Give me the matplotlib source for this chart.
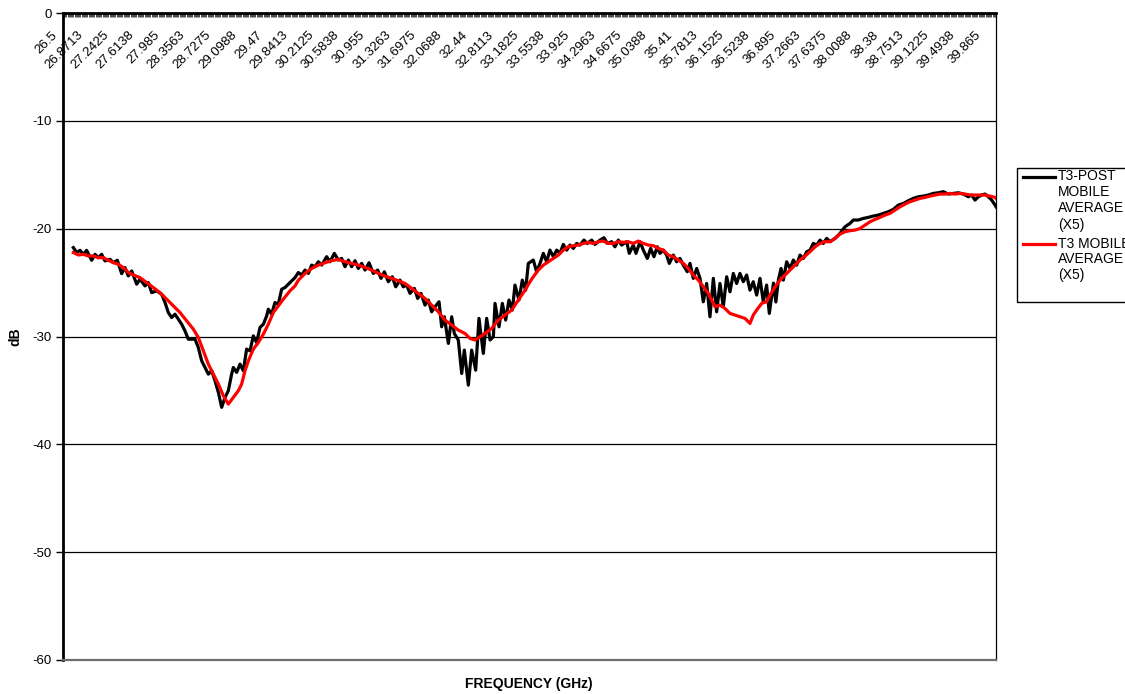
import matplotlib
matplotlib.use("Agg")
import matplotlib.pyplot as plt
from matplotlib.patches import Rectangle
from matplotlib.lines import Line2D
import matplotlib.transforms as mtransforms

plt.rcParams['font.family'] = ['Liberation Sans', 'DejaVu Sans']
plt.rcParams['axes.unicode_minus'] = False

# ---------------- data ----------------
f_start, f_stop, n_points = 26.5, 40.0, 801

x_tick_labels = ["26.5", "26.8713", "27.2425", "27.6138", "27.985", "28.3563", "28.7275",
                 "29.0988", "29.47", "29.8413", "30.2125", "30.5838", "30.955", "31.3263",
                 "31.6975", "32.0688", "32.44", "32.8113", "33.1825", "33.5538", "33.925",
                 "34.2963", "34.6675", "35.0388", "35.41", "35.7813", "36.1525", "36.5238",
                 "36.895", "37.2663", "37.6375", "38.0088", "38.38", "38.7513", "39.1225",
                 "39.4938", "39.865"]
y_ticks = [0, -10, -20, -30, -40, -50, -60]

series_post_label = "T3-POST\nMOBILE\nAVERAGE\n(X5)"
series_t3_label = "T3 MOBILE\nAVERAGE\n(X5)"

post_freq = [26.650, 26.698, 26.746, 26.794, 26.842, 26.915, 26.963, 27.011, 27.059, 27.108,
             27.180, 27.228, 27.286, 27.349, 27.397, 27.445, 27.494, 27.566, 27.614, 27.687,
             27.735, 27.783, 27.855, 27.928, 27.976, 28.024, 28.072, 28.121, 28.169, 28.217,
             28.265, 28.313, 28.362, 28.410, 28.458, 28.506, 28.555, 28.603, 28.651, 28.699,
             28.748, 28.796, 28.844, 28.892, 28.940, 28.965, 29.013, 29.061, 29.109, 29.157,
             29.206, 29.254, 29.302, 29.350, 29.399, 29.447, 29.471, 29.519, 29.567, 29.615,
             29.664, 29.712, 29.760, 29.808, 29.857, 29.905,
             29.953, 30.002, 30.050, 30.098, 30.146, 30.195, 30.243, 30.315, 30.363, 30.426,
             30.484, 30.532, 30.580, 30.629, 30.677, 30.725, 30.773, 30.822, 30.870, 30.928,
             30.990, 31.053, 31.101, 31.150, 31.207, 31.265, 31.314, 31.376, 31.424, 31.473,
             31.521, 31.584, 31.632, 31.680, 31.738, 31.786, 31.834, 31.883, 31.941, 31.979,
             32.018, 32.076, 32.124, 32.162, 32.220, 32.269, 32.307, 32.365, 32.413, 32.471,
             32.519, 32.582, 32.630, 32.679, 32.727, 32.751, 32.809, 32.857, 32.905, 32.953,
             33.002, 33.040, 33.098, 33.146, 33.194, 33.233,
             33.305, 33.353, 33.402, 33.450, 33.498, 33.546, 33.595, 33.643, 33.691, 33.739,
             33.788, 33.836, 33.884, 33.932, 33.980, 34.038, 34.087, 34.149, 34.197, 34.270,
             34.328, 34.376, 34.439, 34.487, 34.535, 34.583, 34.656, 34.694, 34.752, 34.791,
             34.849, 34.897, 34.955, 35.003, 35.051, 35.099, 35.138, 35.186, 35.234, 35.273,
             35.331, 35.379, 35.427, 35.476, 35.533, 35.572, 35.620, 35.669, 35.717, 35.765,
             35.813, 35.861, 35.910, 35.958, 36.006, 36.054, 36.103, 36.151, 36.199, 36.247,
             36.295, 36.344, 36.392, 36.440, 36.488, 36.537, 36.585, 36.633, 36.681, 36.720,
             36.780, 36.815,
             36.851, 36.890, 36.923, 36.971, 37.020, 37.068, 37.116, 37.164, 37.213, 37.261,
             37.309, 37.357, 37.406, 37.454, 37.502, 37.550, 37.598, 37.671, 37.743, 37.816,
             37.888, 37.936, 38.008, 38.081, 38.153, 38.225, 38.298, 38.370, 38.443, 38.515,
             38.587, 38.660, 38.732, 38.804, 38.877, 38.949, 39.021, 39.094, 39.166, 39.238,
             39.311, 39.383, 39.455, 39.528, 39.600, 39.648, 39.696, 39.745, 39.793, 39.841,
             39.889, 39.938, 39.986, 40.000]
post_db = [-21.76, -22.22, -22.01, -22.38, -22.01, -22.93, -22.38, -22.69, -22.38, -22.99,
           -22.84, -23.15, -22.93, -24.17, -23.61, -24.38, -23.92, -25.15, -24.69, -25.31,
           -25.00, -25.93, -25.77, -26.08, -26.85, -27.78, -28.24, -27.93, -28.40, -28.86,
           -29.48, -30.25, -30.25, -30.25, -31.02, -32.25, -32.87, -33.49, -33.18, -34.10,
           -35.19, -36.57, -35.65, -35.03, -33.49, -32.87, -33.33, -32.56, -33.18, -31.17,
           -31.33, -29.94, -30.56, -29.17, -28.86, -28.09, -27.47, -27.93, -26.85, -27.01,
           -25.62, -25.46, -25.15, -24.85, -24.54, -24.07,
           -24.30, -23.84, -24.15, -23.38, -23.53, -23.07, -23.38, -22.60, -23.07, -22.29,
           -22.91, -22.76, -23.53, -22.91, -23.53, -22.97, -23.69, -23.22, -23.84, -23.16,
           -24.15, -23.84, -24.61, -24.00, -24.92, -24.46, -25.39, -24.77, -25.39, -25.23,
           -26.00, -25.54, -26.47, -26.00, -27.09, -26.62, -27.71, -27.24, -26.78, -29.10,
           -28.17, -30.64, -28.17, -29.72, -30.33, -33.43, -31.26, -34.51, -31.26, -33.12,
           -28.32, -31.57, -28.32, -30.33, -30.02, -26.93, -29.10, -26.93, -28.48, -26.62,
           -27.55, -25.23, -26.62, -24.77, -25.70, -23.22,
           -22.91, -24.00, -23.22, -22.29, -23.07, -21.99, -22.60, -21.99, -22.29, -21.46,
           -21.99, -21.52, -21.83, -21.37, -21.52, -21.06, -21.37, -21.06, -21.46, -21.06,
           -20.84, -21.37, -21.21, -21.68, -21.06, -21.52, -21.21, -22.29, -21.52, -22.29,
           -21.21, -21.99, -22.76, -21.83, -22.60, -21.68, -22.29, -21.99, -22.45, -23.22,
           -22.45, -23.07, -22.76, -23.38, -24.00, -23.22, -24.61, -23.69, -24.61, -26.78,
           -25.08, -28.17, -24.61, -27.71, -25.08, -27.24, -24.46, -25.85, -24.15, -25.08,
           -24.15, -24.92, -24.30, -25.70, -24.92, -26.16, -24.61, -26.78, -25.23, -27.86,
           -25.05, -26.80,
           -24.77, -23.69, -24.77, -23.07, -23.69, -22.91, -23.38, -22.45, -22.76, -22.14,
           -21.99, -21.37, -21.52, -21.06, -21.37, -20.90, -21.21, -20.90, -20.44, -19.82,
           -19.51, -19.20, -19.20, -19.05, -18.95, -18.83, -18.74, -18.58, -18.43, -18.21,
           -17.81, -17.66, -17.41, -17.19, -17.04, -16.98, -16.88, -16.73, -16.67, -16.57,
           -16.79, -16.73, -16.67, -16.79, -17.04, -16.88, -17.35, -17.04, -16.88, -16.79,
           -17.04, -17.35, -17.81, -17.97]

t3_freq = [26.650, 26.722, 26.794, 26.867, 26.939, 27.011, 27.083, 27.156, 27.228, 27.300,
           27.373, 27.445, 27.518, 27.614, 27.711, 27.807, 27.903, 28.000, 28.096, 28.193,
           28.289, 28.386, 28.458, 28.530, 28.603, 28.675, 28.748, 28.820, 28.892, 28.965,
           29.037, 29.085, 29.133, 29.182, 29.254, 29.326, 29.399, 29.471, 29.543, 29.615,
           29.688, 29.784, 29.857, 29.905,
           30.002, 30.098, 30.195, 30.291, 30.388, 30.484, 30.580, 30.677, 30.773, 30.870,
           30.966, 31.063, 31.159, 31.256, 31.352, 31.449, 31.545, 31.642, 31.738, 31.834,
           31.931, 32.027, 32.124, 32.220, 32.317, 32.389, 32.461, 32.534, 32.606, 32.703,
           32.799, 32.895, 32.992, 33.088, 33.185, 33.257,
           33.305, 33.378, 33.450, 33.522, 33.595, 33.667, 33.739, 33.812, 33.884, 33.956,
           34.029, 34.101, 34.173, 34.246, 34.318, 34.390, 34.463, 34.535, 34.607, 34.680,
           34.752, 34.824, 34.897, 34.969, 35.042, 35.114, 35.186, 35.259, 35.331, 35.403,
           35.476, 35.548, 35.620, 35.693, 35.765, 35.837, 35.886, 35.934, 36.006, 36.078,
           36.151, 36.223, 36.295, 36.368, 36.440, 36.488, 36.537, 36.609, 36.681,
           36.730, 36.803, 36.875, 36.947, 37.020, 37.092, 37.164, 37.237, 37.309, 37.381,
           37.454, 37.526, 37.598, 37.671, 37.743, 37.816, 37.888, 37.960, 38.033, 38.105,
           38.177, 38.250, 38.322, 38.394, 38.467, 38.539, 38.611, 38.684, 38.756, 38.828,
           38.901, 38.973, 39.045, 39.118, 39.190, 39.262, 39.335, 39.407, 39.479, 39.552,
           39.624, 39.696, 39.769, 39.841, 39.914, 39.986, 40.000]
t3_db = [-22.22, -22.44, -22.38, -22.53, -22.53, -22.69, -22.69, -22.93, -23.15, -23.30,
         -23.61, -24.07, -24.29, -24.54, -25.00, -25.46, -25.93, -26.54, -27.16, -27.78,
         -28.55, -29.32, -30.09, -31.33, -32.56, -33.49, -34.41, -35.49, -36.27, -35.65,
         -35.03, -34.41, -33.18, -32.25, -31.17, -30.56, -29.78, -28.86, -27.78, -27.16,
         -26.54, -25.77, -25.31, -24.78,
         -24.15, -23.69, -23.38, -23.16, -22.97, -22.85, -23.07, -23.22, -23.38, -23.59,
         -23.84, -24.15, -24.40, -24.61, -24.83, -25.08, -25.54, -26.00, -26.47, -27.09,
         -27.71, -28.48, -28.94, -29.41, -29.72, -30.18, -30.33, -30.02, -29.72, -29.25,
         -28.48, -28.01, -27.55, -26.62, -25.70, -24.92,
         -24.46, -23.84, -23.38, -23.07, -22.76, -22.45, -21.99, -21.68, -21.58, -21.52,
         -21.37, -21.27, -21.37, -21.21, -21.15, -21.37, -21.37, -21.21, -21.27, -21.21,
         -21.37, -21.15, -21.37, -21.52, -21.58, -21.83, -21.99, -22.45, -22.60, -22.91,
         -23.22, -23.69, -24.30, -24.77, -25.39, -26.00, -26.62, -27.24, -27.09, -27.40,
         -27.86, -28.01, -28.17, -28.32, -28.79, -28.01, -27.55, -26.93, -26.78,
         -26.16, -25.39, -24.77, -24.30, -23.84, -23.38, -22.91, -22.54, -22.14, -21.68,
         -21.37, -21.21, -21.21, -20.90, -20.50, -20.28, -20.19, -20.13, -19.98, -19.67,
         -19.36, -19.14, -18.95, -18.74, -18.58, -18.27, -17.97, -17.72, -17.50, -17.35,
         -17.19, -17.10, -16.98, -16.88, -16.79, -16.79, -16.73, -16.79, -16.73, -16.79,
         -16.88, -16.88, -16.88, -16.88, -16.98, -17.10, -17.19]

# ---------------- figure ----------------
W, H = 1125, 694
fig = plt.figure(figsize=(W / 100, H / 100), dpi=100)
fig.patch.set_facecolor('white')
ax = fig.add_axes([63 / W, 1 - 660 / H, (996 - 63) / W, (660 - 13) / H])

for v in y_ticks[1:-1]:
    ax.axhline(v, color='black', lw=0.9, zorder=1)

ax.plot(post_freq, post_db, color='black', lw=2.3, solid_joinstyle='round', zorder=3)
ax.plot(t3_freq, t3_db, color='#FF0000', lw=2.3, solid_joinstyle='round', zorder=4)

ax.set_xlim(f_start, f_stop)
ax.set_ylim(y_ticks[-1], y_ticks[0])
ax.set_yticks(y_ticks)
ax.set_yticklabels([str(v) for v in y_ticks], fontsize=9.5)
ax.tick_params(axis='y', direction='out', length=5, width=1, pad=3)

# category tick marks along the top axis
step = (f_stop - f_start) / (n_points - 1)
cat_pos = [f_start + i * step for i in range(n_points)]
ax.xaxis.tick_top()
ax.set_xticks([])
ax.set_xticks(cat_pos, minor=True)
ax.tick_params(axis='x', which='minor', direction='in', length=3, width=0.5,
               top=True, bottom=False, color='black')

for side in ['top', 'left']:
    ax.spines[side].set_linewidth(2.0)
    ax.spines[side].set_color('black')
ax.spines['right'].set_linewidth(0.9)
ax.spines['right'].set_color('black')
ax.spines['bottom'].set_linewidth(1.6)
ax.spines['bottom'].set_color('#6e6e6e')

# rotated category labels inside the plot, below top axis
base = mtransforms.blended_transform_factory(ax.transData, ax.transAxes)
off = mtransforms.ScaledTranslation(-12 / 100, -16 / 100, fig.dpi_scale_trans)
for lab in x_tick_labels:
    ax.text(float(lab), 1.0, lab, transform=base + off, rotation=45,
            rotation_mode='anchor', ha='right', va='top', fontsize=9.5, zorder=5)

fig.text(15 / W, 1 - 337 / H, 'dB', rotation=90, ha='center', va='center',
         fontsize=10, fontweight='bold')
fig.text(529 / W, 1 - 684 / H, 'FREQUENCY (GHz)', ha='center', va='center',
         fontsize=10, fontweight='bold')

# legend (drawn manually, clipped at figure edge like the original)
fig.add_artist(Rectangle((1017 / W, 1 - 302 / H), 0.2, (302 - 168) / H,
                         transform=fig.transFigure, fill=False, edgecolor='black', lw=1))
entries = [(series_post_label, 'black', 176.5), (series_t3_label, '#FF0000', 243.5)]
for label, col, ytop in entries:
    fig.add_artist(Line2D([1023 / W, 1055 / W], [1 - ytop / H] * 2,
                          transform=fig.transFigure, color=col, lw=2.3))
    for k, line in enumerate(label.split('\n')):
        fig.text(1058 / W, 1 - (ytop + 16 * k) / H, line, ha='left', va='center',
                 fontsize=10)

fig.savefig('out.png', dpi=100, facecolor='white')
